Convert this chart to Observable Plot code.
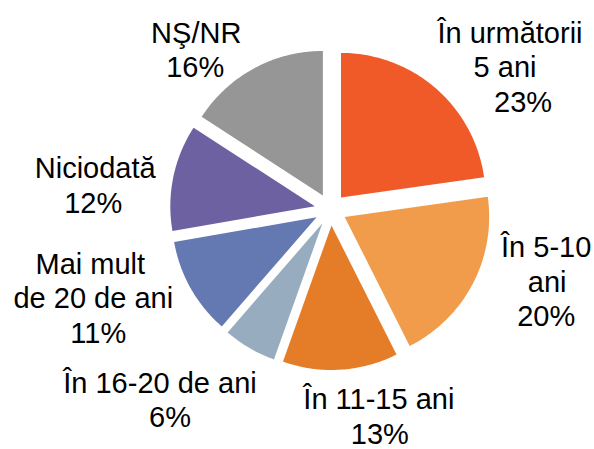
<!DOCTYPE html>
<html><head><meta charset="utf-8">
<script src="https://cdn.jsdelivr.net/npm/d3@7"></script>
<script src="https://cdn.jsdelivr.net/npm/@observablehq/plot@0.6"></script>
<style>html,body{margin:0;padding:0;background:#fff}svg{display:block}</style>
</head><body><div id="chart"></div>
<script>
// ---- data ----
const categories = ["În următorii 5 ani", "În 5-10 ani", "În 11-15 ani", "În 16-20 de ani", "Mai mult de 20 de ani", "Niciodată", "NŞ/NR"];
const values = [23, 20, 13, 6, 11, 12, 16];
const labelLines = [["În următorii", "5 ani"], ["În 5-10", "ani"], ["În 11-15 ani"], ["În 16-20 de ani"], ["Mai mult", "de 20 de ani"], ["Niciodată"], ["NŞ/NR"]];
const colors = ["#F05A28", "#F09C4B", "#E57C27", "#97ADBF", "#6479B2", "#6D61A1", "#969696"];

// ---- layout ----
const W = 594, H = 449;
const CX = 330, CY = 209, R = 144.5, EXPLODE = 16, LABEL_R = 231;
const FONT = 29, LINE_H = 34.5;
const labelNudge = [[29, 33], [11, -34], [34, -23], [-51, -8], [-36, -24], [-10, 23], [-25, 44]];
const lineShift = [[-1, -6, 12], [0, 1, 0], [0, 1], [-3, 7], [-3, 0, 5], [1, -1], [1, 0]];

const arcs = d3.pie().sort(null).value(d => d)(values);
const unit = a => [Math.sin(a), -Math.cos(a)];

const slicePts = [];
const labels = [];
arcs.forEach((a, i) => {
  const mid = (a.startAngle + a.endAngle) / 2;
  const [ux, uy] = unit(mid);
  const ox = CX + EXPLODE * ux, oy = CY + EXPLODE * uy;
  slicePts.push({key: i, x: ox, y: oy, color: colors[i]});
  const n = Math.max(2, Math.ceil((a.endAngle - a.startAngle) / (Math.PI / 180)));
  for (let k = 0; k <= n; k++) {
    const t = a.startAngle + (a.endAngle - a.startAngle) * k / n;
    const [vx, vy] = unit(t);
    slicePts.push({key: i, x: ox + R * vx, y: oy + R * vy, color: colors[i]});
  }
  const bx = CX + LABEL_R * ux + labelNudge[i][0];
  const by = CY + LABEL_R * uy + labelNudge[i][1];
  const lines = [...labelLines[i], `${values[i]}%`];
  lines.forEach((txt, j) => {
    labels.push({
      x: bx + (lineShift[i][j] || 0),
      y: by + (j - (lines.length - 1) / 2) * LINE_H,
      text: txt
    });
  });
});

const chart = Plot.plot({
  width: W, height: H,
  margin: 0,
  x: {domain: [0, W], range: [0, W], axis: null},
  y: {domain: [0, H], range: [0, H], axis: null},
  style: {fontFamily: "'Liberation Sans', Arial, sans-serif", background: "#fff"},
  marks: [
    Plot.line(slicePts, {x: "x", y: "y", z: "key", fill: "color", stroke: "none", curve: "linear-closed"}),
    Plot.text(labels, {x: "x", y: "y", text: "text", fontSize: FONT, fill: "#000", textAnchor: "middle"})
  ]
});
document.getElementById("chart").appendChild(chart);
</script>
</body></html>
